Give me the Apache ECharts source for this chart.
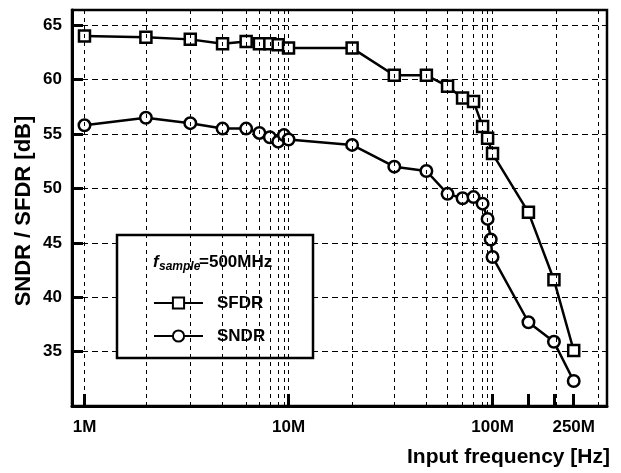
<!DOCTYPE html>
<html><head><meta charset="utf-8">
<script src="https://cdn.jsdelivr.net/npm/echarts@6/dist/echarts.min.js"></script>
<style>html,body{margin:0;padding:0;background:#fff}#c{width:621px;height:473px}</style>
</head><body><div id="c"></div>
<script>
// Frequencies in MHz
const sfdrFreq = [1, 2, 3.3, 4.75, 6.2, 7.2, 8.1, 8.9, 10, 20.5, 33, 47.4, 60.2, 71.3, 80.7, 89.4, 94.6, 100, 150, 200, 250];
const sfdrVal  = [64.0, 63.9, 63.7, 63.3, 63.5, 63.3, 63.3, 63.2, 62.9, 62.9, 60.4, 60.4, 59.4, 58.3, 58.0, 55.7, 54.6, 53.2, 47.8, 41.6, 35.1];
const sndrFreq = [1, 2, 3.3, 4.75, 6.2, 7.2, 8.1, 8.9, 9.5, 10, 20.5, 33, 47.4, 60.2, 71.3, 80.7, 89.4, 94.6, 98, 100, 150, 200, 250];
const sndrVal  = [55.8, 56.5, 56.0, 55.5, 55.5, 55.1, 54.7, 54.3, 54.9, 54.5, 54.0, 52.0, 51.6, 49.5, 49.1, 49.2, 48.6, 47.2, 45.3, 43.7, 37.7, 35.9, 32.3];
const gridFreqs = [1, 2, 3.3, 4.75, 6.2, 7.2, 8.1, 8.9, 9.5, 10, 20.5, 33, 47.4, 60.2, 71.3, 80.7, 89.4, 94.6, 100, 205, 330];
const xTickVals = [1, 10, 100, 150, 200, 250];
const xLabelVals = [1, 10, 100, 250];
const xLabelText = ['1M', '10M', '100M', '250M'];
const yTickVals = [35, 40, 45, 50, 55, 60, 65];

const FONT = '"Liberation Sans", Arial, sans-serif';
const chart = echarts.init(document.getElementById('c'), null, {renderer: 'canvas'});
const option = {
  animation: false,
  backgroundColor: '#fff',
  grid: {left: 72, right: 14, top: 10, height: 396, show: true, borderColor: '#000', borderWidth: 2.5, backgroundColor: 'transparent'},
  xAxis: {
    type: 'log', logBase: 10, min: 0.8685, max: 364,
    axisLine: {show: true, lineStyle: {color: '#000', width: 3}},
    axisTick: {show: true, inside: true, length: 12, lineStyle: {color: '#000', width: 3}, customValues: xTickVals},
    axisLabel: {customValues: xLabelVals, color: '#000', fontFamily: FONT, fontWeight: 'bold', fontSize: 17, margin: 13,
      formatter: v => { const i = xLabelVals.findIndex(x => Math.abs(x - v) / x < 1e-6); return i >= 0 ? xLabelText[i] : ''; }},
    splitLine: {show: false}, minorTick: {show: false}, minorSplitLine: {show: false}
  },
  yAxis: {
    type: 'value', min: 30, max: 66.4, interval: 5,
    axisLine: {show: true, lineStyle: {color: '#000', width: 3}},
    axisTick: {show: true, inside: true, length: 11, lineStyle: {color: '#000', width: 3}, customValues: yTickVals},
    axisLabel: {customValues: yTickVals, color: '#000', fontFamily: FONT, fontWeight: 'bold', fontSize: 17, margin: 10,
      formatter: v => String(v)},
    splitLine: {show: true, lineStyle: {color: '#000', width: 1, type: [6, 4]}}
  },
  legend: {
    data: ['SFDR', 'SNDR'], orient: 'vertical', left: 153, top: 294, itemWidth: 49, itemHeight: 14, itemGap: 15,
    padding: 0, selectedMode: false, z: 10,
    textStyle: {fontFamily: FONT, fontWeight: 'bold', fontSize: 17, color: '#000', lineHeight: 18, padding: [0, 0, 0, 9]}
  },
  graphic: [
    {type: 'rect', z: 5, shape: {x: 117, y: 235, width: 196, height: 123}, style: {fill: '#fff', stroke: '#000', lineWidth: 2.5}},
    {type: 'text', z: 11, x: 153, y: 262, style: {text: 'f', font: 'italic bold 17px ' + FONT, fill: '#000', align: 'left', verticalAlign: 'middle'}},
    {type: 'text', z: 11, x: 159, y: 267, style: {text: 'sample', font: 'italic bold 12px ' + FONT, fill: '#000', align: 'left', verticalAlign: 'middle'}},
    {type: 'text', z: 11, x: 199, y: 262, style: {text: '=500MHz', font: 'bold 17px ' + FONT, fill: '#000', align: 'left', verticalAlign: 'middle'}},
    {type: 'text', z: 11, x: 610, y: 457, style: {text: 'Input frequency [Hz]', font: 'bold 21px ' + FONT, fill: '#000', align: 'right', verticalAlign: 'middle'}},
    {type: 'text', z: 11, x: 24, y: 211, rotation: Math.PI / 2, style: {text: 'SNDR / SFDR [dB]', font: 'bold 22px ' + FONT, fill: '#000', align: 'center', verticalAlign: 'middle'}}
  ],
  series: [
    {name: 'grid', type: 'line', data: [], silent: true, z: 1,
      markLine: {silent: true, symbol: ['none', 'none'], label: {show: false}, animation: false,
        lineStyle: {color: '#000', width: 1, type: [4, 4]},
        data: gridFreqs.map(v => ({xAxis: v}))}},
    {name: 'SFDR', type: 'line', z: 3, data: sfdrFreq.map((f, i) => [f, sfdrVal[i]]),
      symbol: 'rect', symbolSize: 11, itemStyle: {color: '#fff', borderColor: '#000', borderWidth: 2.5},
      lineStyle: {color: '#000', width: 2.5}},
    {name: 'SNDR', type: 'line', z: 3, data: sndrFreq.map((f, i) => [f, sndrVal[i]]),
      symbol: 'circle', symbolSize: 11.5, itemStyle: {color: '#fff', borderColor: '#000', borderWidth: 2.5},
      lineStyle: {color: '#000', width: 2.5}}
  ]
};
chart.setOption(option);
</script>
</body></html>
